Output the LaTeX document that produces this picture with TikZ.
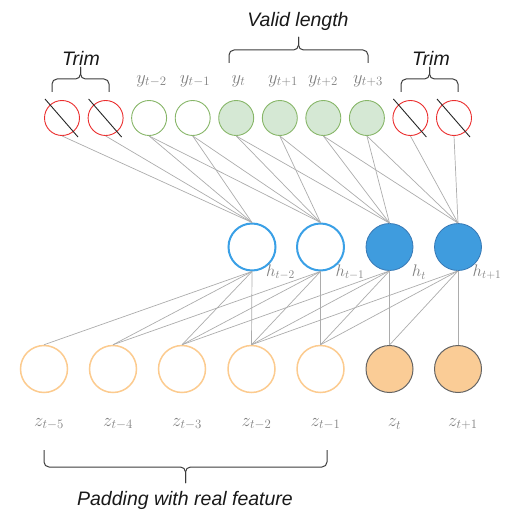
\documentclass[tikz,border=0pt]{standalone}
\usepackage{fontspec}
\newfontfamily\lsans{Liberation Sans}
\definecolor{trimred}{RGB}{235,45,45}
\definecolor{ygreen}{RGB}{135,182,104}
\definecolor{ygreenfill}{RGB}{213,232,212}
\definecolor{hblueline}{RGB}{58,160,230}
\definecolor{hbluefill}{RGB}{63,156,222}
\definecolor{hbluedark}{RGB}{55,120,180}
\definecolor{zorangeline}{RGB}{252,203,143}
\definecolor{zorangefill}{RGB}{250,204,150}
\definecolor{zgrey}{RGB}{100,100,100}
\definecolor{linegrey}{RGB}{172,172,172}
\definecolor{labelgrey}{RGB}{128,128,128}
\definecolor{bracegrey}{RGB}{60,60,60}
\tikzset{
  smallc/.style={circle, inner sep=0pt, minimum size=35pt},
  bigc/.style={circle, inner sep=0pt, minimum size=47pt},
  trimnode/.style={smallc, draw=trimred, line width=0.9pt, fill=white},
  yopen/.style={smallc, draw=ygreen, line width=0.9pt, fill=white},
  yfill/.style={smallc, draw=ygreen, line width=0.9pt, fill=ygreenfill},
  hopen/.style={bigc, draw=hblueline, line width=2pt, fill=white},
  hfill/.style={bigc, draw=hbluedark, line width=0.8pt, fill=hbluefill},
  zopen/.style={bigc, draw=zorangeline, line width=1.5pt, fill=white},
  zfill/.style={bigc, draw=zgrey, line width=1pt, fill=zorangefill},
  conn/.style={draw=linegrey, line width=0.7pt},
  strike/.style={draw=black!85, line width=0.9pt},
  lbl/.style={text=labelgrey, inner sep=0pt, font=\LARGE, scale=1.07, transform shape},
  hlbl/.style={text=labelgrey, inner sep=0pt, font=\LARGE, scale=0.97, transform shape},
  caption/.style={inner sep=0pt, text=black!90, font=\lsans\itshape\fontsize{19.5}{23}\selectfont},
  bracestyle/.style={draw=bracegrey, line width=1pt, rounded corners=5pt}
}
\begin{document}
\begin{tikzpicture}[x=1pt,y=-1pt]
\useasboundingbox (0,0) rectangle (511,516);
% top row
\node[trimnode] (t0) at (62,118) {};
\node[trimnode] (t1) at (105.6,118) {};
\node[yopen] (t2) at (149.1,118) {};
\node[yopen] (t3) at (192.7,118) {};
\node[yfill] (t4) at (236.2,118) {};
\node[yfill] (t5) at (279.8,118) {};
\node[yfill] (t6) at (323.3,118) {};
\node[yfill] (t7) at (366.9,118) {};
\node[trimnode] (t8) at (410.4,118) {};
\node[trimnode] (t9) at (454,118) {};
\foreach \n in {t0,t1,t8,t9}{
  \draw[strike] ([shift={(-17,-19)}]\n.center) -- ([shift={(16,19)}]\n.center);
}
% middle row
\node[hopen] (h0) at (252,247) {};
\node[hopen] (h1) at (320.5,247) {};
\node[hfill] (h2) at (389.5,247) {};
\node[hfill] (h3) at (458,247) {};
% bottom row
\node[zopen] (z0) at (44,369) {};
\node[zopen] (z1) at (113,369) {};
\node[zopen] (z2) at (182,369) {};
\node[zopen] (z3) at (251.5,369) {};
\node[zopen] (z4) at (320.5,369) {};
\node[zfill] (z5) at (389.5,369) {};
\node[zfill] (z6) at (458,369) {};
% connectors top -> h
\foreach \j in {0,1,2,3}{
  \foreach \k in {0,1,2,3}{
    \pgfmathtruncatemacro{\src}{2*\j+\k}
    \draw[conn] (t\src.south) -- (h\j.north);
  }
}
% connectors h -> z
\foreach \j in {0,1,2,3}{
  \foreach \k in {0,1,2,3}{
    \pgfmathtruncatemacro{\dst}{\j+\k}
    \draw[conn] (h\j.south) -- (z\dst.north);
  }
}
% y labels
\node[lbl] (ly2) at (151.5,81) {$y_{t-2}$};
\node[lbl] (ly3) at (195,81) {$y_{t-1}$};
\node[lbl] (ly4) at (238.5,81) {$y_{t}$};
\node[lbl] (ly5) at (283,81) {$y_{t+1}$};
\node[lbl] (ly6) at (323,81) {$y_{t+2}$};
\node[lbl] (ly7) at (368,81) {$y_{t+3}$};
% h labels
\node[hlbl] (lh0) at (280.5,272) {$h_{t-2}$};
\node[hlbl] (lh1) at (350,272) {$h_{t-1}$};
\node[hlbl] (lh2) at (419,272) {$h_{t}$};
\node[hlbl] (lh3) at (487,272) {$h_{t+1}$};
% z labels
\node[lbl] (lz0) at (49,424) {$z_{t-5}$};
\node[lbl] (lz1) at (118,424) {$z_{t-4}$};
\node[lbl] (lz2) at (187,424) {$z_{t-3}$};
\node[lbl] (lz3) at (256.5,424) {$z_{t-2}$};
\node[lbl] (lz4) at (325.5,424) {$z_{t-1}$};
\node[lbl] (lz5) at (394.5,424) {$z_{t}$};
\node[lbl] (lz6) at (463,424) {$z_{t+1}$};
% captions
\node[caption] (ctrimL) at (81,58) {Trim};
\node[caption] (ctrimR) at (431,58) {Trim};
\node[caption] (cvalid) at (298,21) {Valid length};
\node[caption] (cpad) at (185,500) {Padding with real feature};
% braces
\draw[bracestyle] (52,92) -- (52,79) -- (80.5,79) -- (80.5,67);
\draw[bracestyle] (109,92) -- (109,79) -- (80.5,79) -- (80.5,67);
\draw[bracestyle] (401,92) -- (401,79) -- (429.5,79) -- (429.5,67);
\draw[bracestyle] (458,92) -- (458,79) -- (429.5,79) -- (429.5,67);
\draw[bracestyle] (229,63) -- (229,50) -- (298.5,50) -- (298.5,37);
\draw[bracestyle] (368,63) -- (368,50) -- (298.5,50) -- (298.5,37);
\draw[bracestyle] (44,450) -- (44,467) -- (185.5,467) -- (185.5,483);
\draw[bracestyle] (327,450) -- (327,467) -- (185.5,467) -- (185.5,483);
\end{tikzpicture}
\end{document}
